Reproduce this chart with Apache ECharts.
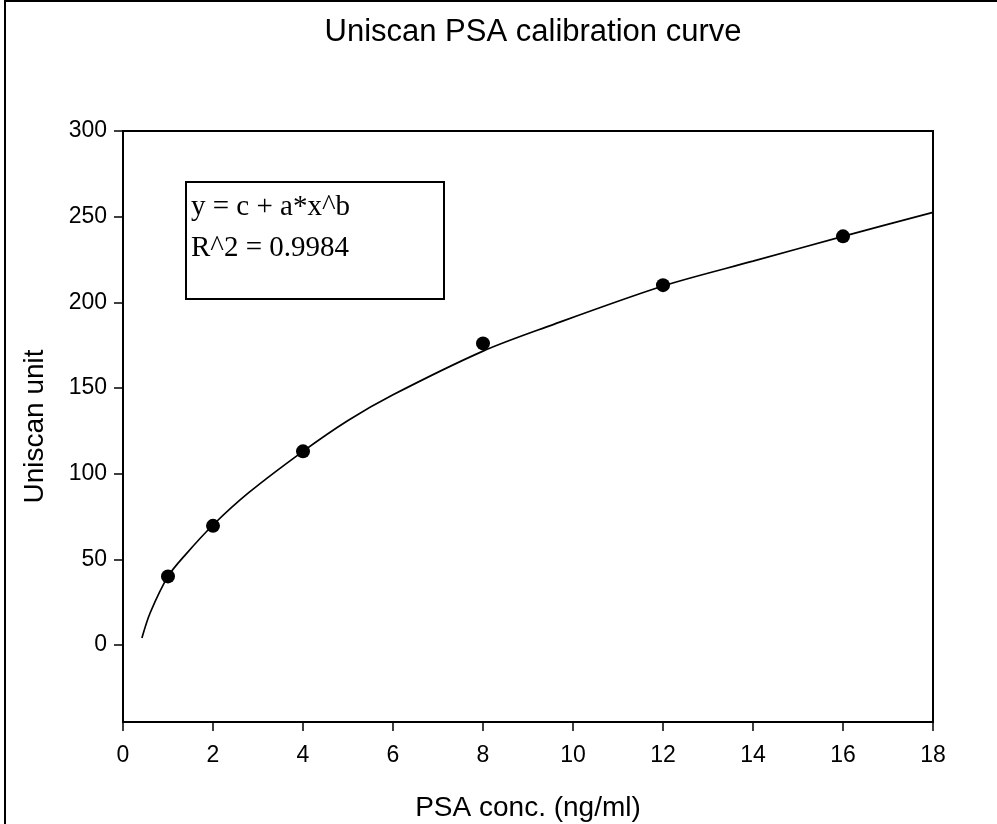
<!DOCTYPE html>
<html>
<head>
<meta charset="utf-8">
<title>Uniscan PSA calibration curve</title>
<script src="https://cdn.jsdelivr.net/npm/echarts@6/dist/echarts.min.js"></script>
<style>
  html, body { margin: 0; padding: 0; background: #fff; }
  #chart { width: 997px; height: 824px; }
</style>
</head>
<body>
<div id="chart"></div>
<script>
  // measured standards
  var concentrations = [1, 2, 4, 8, 12, 16];
  var uniscanValues = [40, 69.5, 113, 176, 210, 238.5];

  // fitted curve
  var fitX = [0.42, 0.6, 1, 1.4, 2, 2.8, 4, 5, 6, 8, 9.4, 12, 14, 16, 18];
  var fitY = [4, 18.5, 40, 53, 70, 89, 113, 131, 146, 171.5, 185.5, 209.5, 224, 238.5, 252.5];

  var yTickValues = [0, 50, 100, 150, 200, 250, 300];

  var points = concentrations.map(function (x, i) { return [x, uniscanValues[i]]; });
  var curve = fitX.map(function (x, i) { return [x, fitY[i]]; });

  var sans = 'Liberation Sans, Arial, sans-serif';
  var chart = echarts.init(document.getElementById('chart'));

  var option = {
    backgroundColor: '#fff',
    animation: false,
    title: {
      text: 'Uniscan PSA calibration curve',
      left: 528,
      textAlign: 'center',
      top: 12,
      textStyle: { fontFamily: sans, fontSize: 31, fontWeight: 'normal', color: '#000' }
    },
    grid: {
      left: 123, top: 131, right: 64, bottom: 102,
      show: true, borderColor: '#000', borderWidth: 2,
      outerBoundsMode: 'none'
    },
    xAxis: {
      type: 'value',
      min: 0, max: 18, interval: 2,
      name: 'PSA conc. (ng/ml)',
      nameLocation: 'middle',
      nameGap: 72,
      nameTextStyle: { fontFamily: sans, fontSize: 28, color: '#000', verticalAlign: 'top' },
      axisLine: { show: true, onZero: false, lineStyle: { color: '#000', width: 2 } },
      axisTick: { show: true, inside: false, length: 9, lineStyle: { color: '#000', width: 1.5 } },
      axisLabel: { margin: 22, fontFamily: sans, fontSize: 23, color: '#000' },
      splitLine: { show: false }
    },
    yAxis: {
      type: 'value',
      min: -45, max: 300,
      name: 'Uniscan unit',
      nameLocation: 'middle',
      nameGap: 74,
      nameTextStyle: { fontFamily: sans, fontSize: 28, color: '#000' },
      axisLine: { show: true, onZero: false, lineStyle: { color: '#000', width: 2 } },
      axisTick: { show: true, inside: false, length: 9, customValues: yTickValues, lineStyle: { color: '#000', width: 1.5 } },
      axisLabel: { margin: 16, fontFamily: sans, fontSize: 23, color: '#000', customValues: yTickValues },
      splitLine: { show: false }
    },
    graphic: [
      {
        type: 'rect',
        shape: { x: 5, y: 1, width: 1100, height: 1000 },
        style: { fill: 'none', stroke: '#000', lineWidth: 2 },
        silent: true
      },
      {
        type: 'rect',
        shape: { x: 186, y: 182, width: 258, height: 117 },
        style: { fill: '#fff', stroke: '#000', lineWidth: 2 },
        z: 10
      },
      {
        type: 'text',
        x: 191, y: 187,
        style: {
          text: 'y = c + a*x^b\nR^2 = 0.9984',
          font: '29px "Liberation Serif", "Times New Roman", serif',
          lineHeight: 41,
          fill: '#000'
        },
        z: 11
      }
    ],
    series: [
      {
        name: 'fit',
        type: 'line',
        data: curve,
        smooth: 0.3,
        showSymbol: false,
        symbol: 'none',
        lineStyle: { color: '#000', width: 1.7 },
        z: 2
      },
      {
        name: 'standards',
        type: 'scatter',
        data: points,
        symbol: 'circle',
        symbolSize: 14,
        itemStyle: { color: '#000', opacity: 1 },
        z: 3
      }
    ]
  };

  chart.setOption(option);
</script>
</body>
</html>
